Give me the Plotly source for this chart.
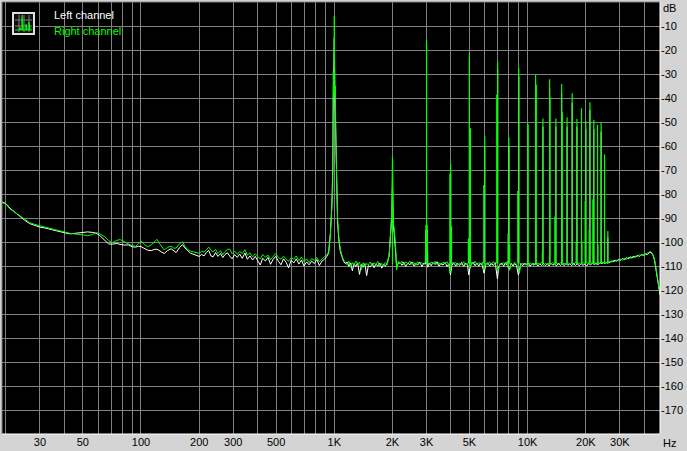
import math
import plotly.graph_objects as go

# ---------------- data ----------------
# Right channel (green) spectrum: frequency in Hz, level in dB
right_freq = [19, 20, 21, 22, 23, 24, 25, 26.5, 28, 30, 32, 34, 36, 38, 40, 43, 46, 48, 51, 53, 56, 58.5, 61, 65, 68, 71, 75, 78, 82, 86, 90, 94, 97,
              100, 104, 108, 113, 117, 121, 125, 128, 132, 137, 143, 148, 152, 158, 164, 169, 174, 180, 188, 195,
              200, 206, 212, 218, 224, 230, 236, 243, 250, 258, 265, 272, 280, 288, 296, 305, 315, 324, 334, 345, 355, 366, 378, 390,
              402, 414, 426, 440, 454, 468, 483, 498, 514, 530, 546, 563, 580, 598, 617, 636, 656, 676, 697, 719, 741, 764, 788,
              812, 837, 863, 890, 915, 935, 955, 970, 982, 988, 994, 1000, 1006, 1012, 1020, 1030, 1040, 1055, 1075, 1095, 1115,
              1140, 1165, 1190, 1215, 1240, 1265, 1290, 1320, 1350, 1380, 1410, 1440, 1470, 1500, 1535, 1570, 1605, 1640, 1680,
              1720, 1760, 1800, 1840, 1880, 1926, 1958, 1982, 2000, 2020, 2044, 2077, 2100, 2145,
              2190, 2240, 2290, 2340, 2400, 2460, 2520, 2580, 2640, 2700, 2770, 2840, 2910, 2960, 2975, 3025, 3045,
              3100, 3170, 3240, 3320, 3400, 3480, 3560, 3650, 3740, 3830, 3920, 3960, 4060, 4150, 4250, 4350, 4450, 4560,
              4670, 4780, 4890, 4950, 5050, 5120, 5230, 5350, 5470, 5590, 5710, 5830, 5950, 6080, 6220, 6360, 6500, 6650,
              6800, 6950, 7050, 7200, 7350, 7520, 7690, 7860, 7950, 8070, 8220, 8400, 8580, 8760, 8930, 9060, 9230, 9440,
              9650, 9850, 10080, 10300, 10550, 10800, 11050, 11300, 11560, 11820, 12100, 12380, 12650, 12920, 13200, 13500,
              13800, 14100, 14430, 14750, 15100, 15450, 15800, 16150, 16520, 16900, 17280, 17670, 18070, 18480, 18900,
              19330, 19770, 20220, 20680, 21150, 21630, 22120, 22620, 23130, 23660, 24200, 24750, 25310, 25890, 26480,
              27080, 27700, 28330, 28970, 29630, 30300, 31000, 31700, 32420, 33160, 33910, 34680, 35470, 36280, 37100,
              37950, 38810, 39690, 40600, 41520, 42460, 43400, 44400, 45300, 45900, 46600, 47200, 47800, 48400]
right_db = [-83.5, -84.2, -86.2, -87.4, -88.6, -89.6, -90.6, -91.9, -92.6, -93.3, -93.7, -94.3, -94.9, -95.3, -95.8, -96.4, -96.7, -96.8, -97.1, -97.4, -96.9, -96.1, -96.5, -97.8, -99.4, -100.3, -99.3, -99.0, -99.9, -100.9, -101.6, -101.8, -100.6,
            -99.6, -101.0, -102.0, -101.2, -99.8, -98.9, -100.8, -102.0, -103.3, -102.3, -101.7, -102.6, -102.5, -100.8, -99.9, -101.8, -103.0, -103.8, -104.3, -104.6,
            -104.7, -103.9, -104.2, -103.3, -102.1, -103.4, -104.2, -103.0, -104.8, -103.6, -105.3, -104.0, -103.1, -103.0, -104.9, -103.8, -105.1, -104.0, -104.8, -103.2, -105.5, -104.5, -106.2, -104.9,
            -106.0, -107.1, -105.2, -106.3, -105.5, -107.4, -106.0, -104.8, -106.5, -107.2, -105.9, -107.0, -108.1, -106.5, -107.2, -105.8, -107.8, -106.3, -108.2, -107.0, -108.6, -106.9, -107.6,
            -106.4, -108.3, -107.1, -106.0, -105.5, -104.0, -97.0, -88.0, -77.0, -29.0, -40.0, -6.0, -38.0, -35.0, -60.0, -81.0, -90.0, -98.0, -103.0, -105.5, -107.5,
            -108.2, -109.5, -108.0, -110.5, -108.6, -109.8, -107.9, -109.2, -108.4, -111.5, -108.6, -110.2, -108.9, -109.6, -108.3, -110.0, -108.7, -109.3, -108.1,
            -110.4, -108.9, -109.7, -108.4, -109.4, -104.6, -95.0, -88.0, -66.0, -92.0, -95.0, -102.0, -111.7, -108.0,
            -109.2, -108.0, -109.5, -108.3, -109.0, -107.9, -109.4, -108.5, -109.8, -108.2, -109.1, -108.6, -109.5, -108.5, -93.0, -93.0, -108.9,
            -109.6, -108.3, -109.2, -108.0, -109.4, -108.6, -109.7, -108.4, -109.1, -108.2, -110.0, -113.0, -108.4, -109.3, -108.5, -109.8, -108.7, -109.4,
            -108.2, -109.6, -108.9, -110.5, -111.0, -108.5, -109.3, -108.0, -109.5, -108.6, -109.2, -108.4, -111.5, -108.8, -109.5, -108.3, -109.4, -108.1,
            -109.2, -110.6, -112.0, -108.9, -109.5, -108.6, -109.3, -108.0, -110.8, -111.8, -109.0, -109.6, -108.4, -109.2, -110.6, -113.0, -109.3, -108.7,
            -109.5, -108.9, -109.8, -108.6, -109.4, -108.8, -109.7, -108.7, -109.3, -108.4, -109.9, -108.8, -109.5, -108.6, -109.2, -108.5,
            -109.6, -108.7, -109.4, -108.6, -109.3, -108.8, -109.6, -108.5, -109.3, -108.9, -109.5, -108.4, -109.2, -108.7, -109.4,
            -108.6, -109.1, -108.5, -109.2, -108.4, -109.0, -108.3, -109.5, -108.6, -108.9, -108.2, -108.8, -108.4, -108.9, -108.0,
            -108.5, -107.6, -108.2, -107.4, -107.9, -107.0, -107.6, -106.8, -107.3, -106.4, -106.9, -106.0, -106.6, -105.7, -106.2,
            -105.3, -105.8, -105.0, -105.5, -104.6, -104.2, -104.0, -105.0, -107.0, -109.5, -113.5, -116.5, -119.0, -121.0]

# Left channel (white) spectrum
left_freq = [19, 20, 21, 22, 23, 24, 25, 26.5, 28, 30, 32, 34, 36, 38, 40, 43, 46, 48, 51, 53, 56, 58.5, 61, 65, 68, 71, 75, 78, 82, 86, 90, 94, 97,
             100, 104, 108, 113, 117, 121, 125, 128, 132, 137, 143, 148, 152, 158, 164, 169, 174, 180, 188, 195,
             200, 206, 212, 218, 224, 230, 236, 243, 250, 258, 265, 272, 280, 288, 296, 305, 315, 324, 334, 345, 355, 366, 378, 390,
             402, 414, 426, 440, 454, 468, 483, 498, 514, 530, 546, 563, 580, 598, 617, 636, 656, 676, 697, 719, 741, 764, 788,
             812, 837, 863, 890, 915, 935, 955, 970, 982, 988, 994, 1000, 1006, 1012, 1020, 1030, 1040, 1055, 1075, 1095, 1115,
             1140, 1165, 1190, 1215, 1240, 1265, 1290, 1320, 1350, 1380, 1410, 1440, 1470, 1500, 1535, 1570, 1605, 1640, 1680,
             1720, 1760, 1800, 1840, 1880, 1920, 1958, 1982, 2000, 2020, 2044, 2077, 2100, 2145,
             2190, 2240, 2290, 2340, 2400, 2460, 2520, 2580, 2640, 2700, 2770, 2840, 2910, 2960, 2975, 3025, 3045,
             3100, 3170, 3240, 3320, 3400, 3480, 3560, 3650, 3740, 3830, 3920, 3990, 4060, 4150, 4250, 4350, 4450, 4560,
             4670, 4780, 4890, 4960, 5050, 5120, 5230, 5350, 5470, 5590, 5710, 5830, 5950, 6080, 6220, 6360, 6500, 6650,
             6800, 6980, 7100, 7200, 7350, 7520, 7690, 7860, 8050, 8220, 8400, 8580, 8760, 8960, 9100, 9230, 9440,
             9650, 9850, 10080, 10300, 10550, 10800, 11050, 11300, 11560, 11820, 12100, 12380, 12650, 12920, 13200, 13500,
             13800, 14100, 14430, 14750, 15100, 15450, 15800, 16150, 16520, 16900, 17280, 17670, 18070, 18480, 18900,
             19330, 19770, 20220, 20680, 21150, 21630, 22120, 22620, 23130, 23660, 24200, 24750, 25310, 25890, 26480,
             27080, 27700, 28330, 28970, 29630, 30300, 31000, 31700, 32420, 33160, 33910, 34680, 35470, 36280, 37100,
             37950, 38810, 39690, 40600, 41520, 42460, 43400, 44400, 45300, 45900, 46600, 47200, 47800, 48400]
left_db = [-83.2, -84.0, -85.9, -87.3, -88.6, -89.8, -90.9, -92.3, -93.1, -93.8, -94.2, -94.8, -95.3, -95.6, -96.1, -96.6, -96.4, -96.2, -95.9, -95.8, -96.0, -96.3, -97.2, -99.5, -100.8, -100.9, -100.6, -101.0, -101.3, -101.2, -102.0, -102.1, -101.8,
           -101.9, -102.7, -103.4, -103.6, -103.1, -103.0, -103.9, -104.2, -104.8, -103.6, -102.8, -103.8, -104.4, -102.4, -101.1, -102.5, -103.4, -104.6, -105.2, -105.6,
           -106.0, -105.2, -105.8, -104.3, -103.5, -105.8, -106.2, -104.4, -106.0, -104.8, -106.5, -105.2, -104.5, -105.9, -107.0, -105.3, -106.4, -105.0, -106.8, -104.6, -107.2, -105.8, -107.5, -106.0,
           -108.0, -109.6, -106.8, -107.9, -106.4, -109.3, -107.2, -106.0, -108.0, -109.5, -107.0, -108.4, -110.8, -107.6, -108.7, -107.0, -109.2, -107.5, -110.0, -108.3, -109.5, -108.0, -109.0,
           -107.3, -109.8, -108.0, -107.2, -106.0, -104.5, -96.0, -86.0, -70.0, -40.0, -30.0, -15.0, -35.0, -45.0, -63.0, -83.0, -92.0, -99.0, -104.0, -106.0, -108.0,
           -109.0, -108.3, -110.2, -108.7, -112.0, -109.0, -110.3, -108.7, -113.5, -109.4, -110.5, -109.0, -114.0, -109.8, -110.4, -108.9, -110.7, -109.2, -110.1,
           -108.8, -110.9, -109.3, -110.0, -108.6, -106.0, -96.0, -90.0, -75.0, -93.0, -97.0, -103.0, -110.0, -108.8,
           -108.6, -109.7, -108.4, -110.2, -108.8, -109.5, -108.3, -110.0, -108.9, -109.6, -108.4, -110.3, -108.7, -109.2, -95.0, -95.0, -110.5,
           -108.8, -109.9, -108.5, -109.4, -108.2, -110.1, -108.9, -109.6, -108.5, -110.2, -109.0, -113.6, -109.7, -108.6, -110.0, -108.9, -109.8, -108.5,
           -110.2, -108.8, -109.6, -113.7, -110.3, -109.2, -108.4, -109.9, -108.7, -110.1, -108.8, -109.7, -113.0, -109.4, -108.6, -110.0, -108.9, -109.8,
           -108.6, -115.4, -110.0, -109.5, -108.7, -110.1, -108.6, -109.8, -111.5, -108.8, -110.0, -109.0, -109.9, -113.7, -110.2, -108.9, -109.9,
           -108.8, -109.6, -108.9, -110.1, -109.0, -109.7, -108.8, -110.0, -109.1, -109.8, -108.9, -109.9, -109.0, -110.0, -108.8, -109.7,
           -109.1, -110.0, -108.9, -109.8, -109.0, -109.9, -108.9, -109.7, -109.1, -109.9, -108.9, -109.8, -109.0, -109.9, -109.0,
           -109.7, -109.3, -110.0, -108.9, -109.6, -108.8, -109.4, -108.7, -109.5, -108.6, -109.0, -108.5, -108.9, -108.2, -108.7,
           -107.9, -108.3, -107.5, -108.0, -107.2, -107.6, -106.9, -107.4, -106.5, -107.0, -106.2, -106.7, -105.9, -106.3, -105.5,
           -106.0, -105.2, -105.6, -104.9, -105.3, -104.5, -104.3, -105.3, -107.5, -110.5, -114.5, -118.0, -120.5, -122.0]

# Harmonic spike lines (Hz, peak dB)
right_harm_freq = [2000, 3000, 3960, 4000, 4040, 4940, 5000, 5060, 5930, 6000, 6920, 7000, 7920, 8000, 8080, 8890, 9000,
                   10000, 10060, 11000, 11090, 11920, 12000, 13000, 13050, 13830, 14000, 15000, 15120, 16000, 17000,
                   17830, 18000, 19000, 19100, 19840, 20000, 20830, 21000, 21740, 22000, 23000, 23120, 24000, 25000, 26000]
right_harm_db = [-64.5, -15.8, -71.5, -67.5, -93.5, -98.5, -21.4, -52.6, -76.2, -55.8, -38.5, -24.9, -96.4, -56.5, -101.0, -78.7, -27.6,
                 -50.6, -51.0, -30.4, -34.6, -104.0, -48.5, -32.2, -39.7, -89.4, -48.5, -34.2, -45.7, -48.0, -38.0,
                 -100.3, -48.8, -44.3, -99.7, -82.9, -49.6, -95.0, -41.8, -82.2, -49.2, -51.2, -101.0, -50.1, -63.5, -95.4]
left_harm_freq = [2000, 3000, 4000, 5000, 6000, 7000, 8000, 9000, 10000, 11000, 12000, 13000, 14000,
                  15000, 16000, 17000, 18000, 19000, 20000, 21000, 22000, 23000, 24000, 25000, 26000]
left_harm_db = [-68.0, -18.0, -72.0, -24.0, -60.0, -28.0, -60.0, -31.0, -54.0, -34.0, -52.0, -36.0, -52.0,
                -38.0, -52.0, -42.0, -52.0, -48.0, -53.0, -45.0, -53.0, -55.0, -54.0, -67.0, -98.0]
harm_base_db = -109.0

# Axis ticks
x_tickvals = [20, 30, 40, 50, 60, 70, 80, 90, 100, 200, 300, 400, 500, 600, 700, 800, 900,
              1000, 2000, 3000, 4000, 5000, 6000, 7000, 8000, 9000, 10000, 20000, 30000, 40000]
x_ticktext = ["", "30", "", "50", "", "", "", "", "100", "200", "300", "", "500", "", "", "", "",
              "1K", "2K", "3K", "", "5K", "", "", "", "", "10K", "20K", "30K", ""]
y_tickvals = [-10, -20, -30, -40, -50, -60, -70, -80, -90, -100, -110, -120, -130, -140, -150, -160, -170]
y_ticktext = [str(v) for v in y_tickvals]
x_range_hz = [19.1, 48400]
y_range_db = [-180, 0]

# ---------------- styling ----------------
GREEN = "#00FF00"
WHITE = "#FFFFFF"
GRID = "#808080"
PANEL = "#D4D4D4"
FONT = "Liberation Sans, Arial, sans-serif"

W, H = 687, 451
ML, MR, MT, MB = 2, 27, 2, 17
PW, PH = W - ML - MR, H - MT - MB


def px(x, y):
    """pixel position -> paper coordinates (decorations only)"""
    return (x - ML) / PW, 1 - (y - MT) / PH


def spike_xy(freqs, peaks, base):
    xs, ys = [], []
    for f, p in zip(freqs, peaks):
        xs += [f, f, None]
        ys += [base, p, None]
    return xs, ys


fig = go.Figure()
lx, ly = spike_xy(left_harm_freq, left_harm_db, harm_base_db)
rx, ry = spike_xy(right_harm_freq, right_harm_db, harm_base_db)
fig.add_trace(go.Scatter(x=left_freq, y=left_db, mode="lines", line=dict(color=WHITE, width=1), name="Left channel"))
fig.add_trace(go.Scatter(x=lx, y=ly, mode="lines", line=dict(color=WHITE, width=1), name="Left channel", connectgaps=False))
fig.add_trace(go.Scatter(x=right_freq, y=right_db, mode="lines", line=dict(color=GREEN, width=1), name="Right channel"))
fig.add_trace(go.Scatter(x=rx, y=ry, mode="lines", line=dict(color=GREEN, width=1.2), name="Right channel", connectgaps=False))

shapes = []
# sunken bevel border
shapes.append(dict(type="line", xref="paper", yref="paper", x0=0, x1=1, y0=1, y1=1, line=dict(color=GRID, width=1)))
shapes.append(dict(type="line", xref="paper", yref="paper", x0=0, x1=0, y0=0, y1=1, line=dict(color=GRID, width=1)))
shapes.append(dict(type="line", xref="paper", yref="paper", x0=0, x1=1, y0=0, y1=0, line=dict(color=WHITE, width=1)))
shapes.append(dict(type="line", xref="paper", yref="paper", x0=1, x1=1, y0=0, y1=1, line=dict(color=WHITE, width=1)))
# legend icon
x0, y0 = px(13, 13)
x1, y1 = px(34, 34)
shapes.append(dict(type="rect", xref="paper", yref="paper", x0=x0, x1=x1, y0=y1, y1=y0,
                   line=dict(color="#E0E0E0", width=2), fillcolor="#101010"))
for gx in (19, 24, 29):
    a, b = px(gx, 15)
    c, d = px(gx, 32)
    shapes.append(dict(type="line", xref="paper", yref="paper", x0=a, x1=c, y0=b, y1=d, line=dict(color=GRID, width=1)))
for gy in (20, 26):
    a, b = px(15, gy)
    c, d = px(32, gy)
    shapes.append(dict(type="line", xref="paper", yref="paper", x0=a, x1=c, y0=b, y1=d, line=dict(color=GRID, width=1)))
icon_pts = [(15, 30), (19, 30), (20, 28), (21, 30), (22, 30), (22, 15), (23, 30), (26, 30), (26, 24), (27, 30),
            (29, 30), (29, 22), (30, 30), (32, 30)]
path = ""
for i, (ix, iy) in enumerate(icon_pts):
    a, b = px(ix, iy)
    path += ("M" if i == 0 else "L") + f"{a:.5f},{b:.5f} "
shapes.append(dict(type="path", xref="paper", yref="paper", path=path, line=dict(color=GREEN, width=1.2)))

annotations = []
ax_, ay_ = px(52, 15)
annotations.append(dict(x=ax_, y=ay_, xref="paper", yref="paper", text="Left channel", showarrow=False,
                        xanchor="left", yanchor="middle", font=dict(family=FONT, size=11, color=WHITE)))
ax_, ay_ = px(52, 31)
annotations.append(dict(x=ax_, y=ay_, xref="paper", yref="paper", text="Right channel", showarrow=False,
                        xanchor="left", yanchor="middle", font=dict(family=FONT, size=11, color=GREEN)))
ax_, ay_ = px(661, 8)
annotations.append(dict(x=ax_, y=ay_, xref="paper", yref="paper", text="dB", showarrow=False,
                        xanchor="left", yanchor="middle", font=dict(family=FONT, size=11, color="black")))
ax_, ay_ = px(661, 443)
annotations.append(dict(x=ax_, y=ay_, xref="paper", yref="paper", text="Hz", showarrow=False,
                        xanchor="left", yanchor="middle", font=dict(family=FONT, size=11, color="black")))

fig.update_layout(
    width=W, height=H,
    margin=dict(l=ML, r=MR, t=MT, b=MB, pad=0),
    paper_bgcolor=PANEL, plot_bgcolor="black",
    showlegend=False,
    shapes=shapes, annotations=annotations,
    xaxis=dict(type="log", range=[math.log10(x_range_hz[0]), math.log10(x_range_hz[1])],
               tickmode="array", tickvals=x_tickvals, ticktext=x_ticktext,
               showgrid=True, gridcolor=GRID, gridwidth=1, zeroline=False, ticks="", showline=False,
               tickfont=dict(family=FONT, size=11, color="black")),
    yaxis=dict(range=y_range_db, side="right", tickmode="array", tickvals=y_tickvals, ticktext=y_ticktext,
               showgrid=True, gridcolor=GRID, gridwidth=1, zeroline=False, ticks="", showline=False,
               tickfont=dict(family=FONT, size=11, color="black")),
)

fig.write_html("out.html",
               config=dict(displayModeBar=False, staticPlot=True),
               post_script="document.body.style.margin='0';document.body.style.padding='0';"
                           "document.body.style.overflow='hidden';document.body.style.background='%s';" % PANEL)
